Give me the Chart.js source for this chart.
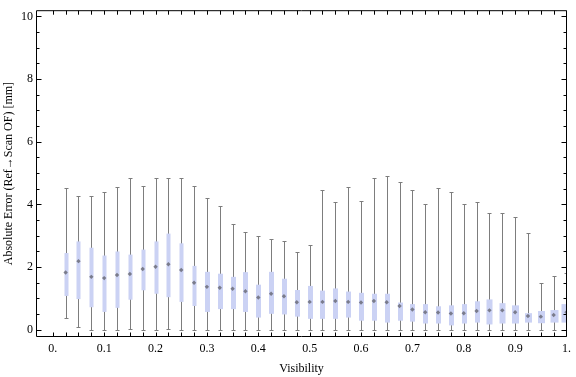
<!DOCTYPE html>
<html>
<head>
<meta charset="utf-8">
<script src="https://cdn.jsdelivr.net/npm/chart.js@4.4.1/dist/chart.umd.min.js"></script>
<style>
  html, body { margin: 0; padding: 0; background: #fff; }
  canvas { display: block; }
</style>
</head>
<body>
<canvas id="chart" width="576" height="377"></canvas>
<script>
// Bin centres (visibility)
const visibility = [
  0.025, 0.05, 0.075, 0.1, 0.125, 0.15, 0.175, 0.2, 0.225, 0.25,
  0.275, 0.3, 0.325, 0.35, 0.375, 0.4, 0.425, 0.45, 0.475, 0.5,
  0.525, 0.55, 0.575, 0.6, 0.625, 0.65, 0.675, 0.7, 0.725, 0.75,
  0.775, 0.8, 0.825, 0.85, 0.875, 0.9, 0.925, 0.95, 0.975, 1.0
]

// Box-whisker statistics, absolute error in mm
const whiskerHigh = [
  4.51, 4.28, 4.28, 4.41, 4.55, 4.83, 4.58, 4.83, 4.83, 4.83,
  4.58, 4.20, 3.95, 3.39, 3.13, 3.00, 2.90, 2.84, 2.48, 2.72,
  4.47, 4.07, 4.55, 4.10, 4.83, 4.91, 4.72, 4.47, 4.00, 4.51,
  4.41, 4.00, 4.07, 3.72, 3.72, 3.60, 3.10, 1.49, 1.71, 1.81
]
const upperQuartile = [
  2.45, 2.82, 2.62, 2.37, 2.50, 2.40, 2.56, 2.82, 3.07, 2.76,
  2.04, 1.85, 1.79, 1.69, 1.84, 1.44, 1.85, 1.63, 1.27, 1.40,
  1.25, 1.32, 1.22, 1.18, 1.15, 1.15, 0.87, 0.82, 0.82, 0.75,
  0.78, 0.82, 0.91, 0.97, 0.85, 0.78, 0.53, 0.60, 0.63, 0.82
]
const medians = [
  1.83, 2.19, 1.69, 1.65, 1.75, 1.78, 1.94, 2.01, 2.09, 1.91,
  1.50, 1.37, 1.34, 1.31, 1.23, 1.03, 1.15, 1.07, 0.88, 0.89,
  0.89, 0.92, 0.89, 0.87, 0.92, 0.88, 0.76, 0.65, 0.56, 0.55,
  0.52, 0.53, 0.60, 0.62, 0.62, 0.56, 0.44, 0.42, 0.47, 0.56
]
const lowerQuartile = [
  1.08, 0.98, 0.72, 0.57, 0.70, 0.96, 1.26, 1.15, 1.04, 0.89,
  0.76, 0.57, 0.66, 0.66, 0.57, 0.39, 0.51, 0.49, 0.42, 0.35,
  0.35, 0.35, 0.39, 0.29, 0.29, 0.23, 0.29, 0.26, 0.20, 0.20,
  0.14, 0.20, 0.23, 0.17, 0.20, 0.20, 0.23, 0.21, 0.23, 0.23
]
const whiskerLow = [
  0.37, 0.09, 0, 0, 0, 0.04, 0, 0, 0.03, 0,
  0, 0, 0, 0, 0, 0, 0, 0, 0, 0,
  0, 0, 0, 0, 0, 0, 0, 0, 0, 0,
  0, 0, 0, 0, 0, 0, 0, 0, 0, 0
]

// Axis ticks and labels
const xTickValues = [
  0, 0.025, 0.05, 0.075, 0.1, 0.125, 0.15, 0.175, 0.2, 0.225, 0.25,
  0.275, 0.3, 0.325, 0.35, 0.375, 0.4, 0.425, 0.45, 0.475, 0.5,
  0.525, 0.55, 0.575, 0.6, 0.625, 0.65, 0.675, 0.7, 0.725, 0.75,
  0.775, 0.8, 0.825, 0.85, 0.875, 0.9, 0.925, 0.95, 0.975, 1.0
]
const xTickLabels = ['0.', '0.1', '0.2', '0.3', '0.4', '0.5', '0.6', '0.7', '0.8', '0.9', '1.']
const yTickValues = [0, 0.5, 1, 1.5, 2, 2.5, 3, 3.5, 4, 4.5, 5, 5.5, 6, 6.5, 7, 7.5, 8, 8.5, 9, 9.5, 10]
const yTickLabels = ['0', '2', '4', '6', '8', '10']

// Box widths in px (boxes get wider toward high visibility)
const boxWidths = [
  4, 4, 4, 4, 4, 4, 4, 4, 4, 4,
  4, 5, 5, 5, 5, 5, 5, 5, 5, 5,
  5, 5, 5, 5, 5, 5, 5, 5, 5, 5,
  5, 5, 5, 6, 6, 7, 7, 7, 8, 10
]

const boxColor = 'rgb(203, 210, 244)'
const whiskerColor = 'rgb(125, 125, 125)'

Chart.defaults.font.family = "'Liberation Serif', 'DejaVu Serif', serif"
Chart.defaults.font.size = 12
Chart.defaults.color = '#000'

// Whiskers, caps and boxes drawn through the chart's scales
const boxWhiskerPlugin = {
  id: 'boxWhisker',
  beforeDatasetsDraw(chart) {
    const { ctx, chartArea, scales: { x, y } } = chart
    ctx.save()
    ctx.beginPath()
    ctx.rect(chartArea.left, chartArea.top, chartArea.right - chartArea.left, chartArea.bottom - chartArea.top)
    ctx.clip()
    visibility.forEach((v, i) => {
      const px = Math.round(x.getPixelForValue(v)) + 0.5
      const top = Math.round(y.getPixelForValue(whiskerHigh[i])) + 0.5
      const bottom = Math.round(y.getPixelForValue(whiskerLow[i])) + 0.5
      ctx.strokeStyle = whiskerColor
      ctx.lineWidth = 1
      ctx.beginPath()
      ctx.moveTo(px, top)
      ctx.lineTo(px, bottom)
      ctx.moveTo(px - 2, top)
      ctx.lineTo(px + 2, top)
      ctx.moveTo(px - 2, bottom)
      ctx.lineTo(px + 2, bottom)
      ctx.stroke()

      const q3 = y.getPixelForValue(upperQuartile[i])
      const q1 = y.getPixelForValue(lowerQuartile[i])
      const w = boxWidths[i]
      ctx.fillStyle = boxColor
      ctx.fillRect(px - w / 2, q3, w, q1 - q3)
    })
    ctx.restore()
  }
}

// Mathematica-like frame with inward ticks on all four sides
const framePlugin = {
  id: 'frame',
  afterDraw(chart) {
    const { ctx, chartArea, scales: { x, y } } = chart
    const l = chartArea.left + 0.5, r = chartArea.right - 0.5
    const t = chartArea.top + 0.5, b = chartArea.bottom - 0.5
    ctx.save()
    ctx.strokeStyle = '#000'
    ctx.lineWidth = 1
    ctx.beginPath()
    ctx.rect(l, t, r - l, b - t)
    xTickValues.forEach(v => {
      const px = Math.round(x.getPixelForValue(v)) + 0.5
      ctx.moveTo(px, b)
      ctx.lineTo(px, b - 4)
      ctx.moveTo(px, t)
      ctx.lineTo(px, t + 4)
    })
    yTickValues.forEach(v => {
      const py = Math.round(y.getPixelForValue(v)) + 0.5
      const len = v % 2 === 0 ? 5 : 3
      ctx.moveTo(l, py)
      ctx.lineTo(l + len, py)
      ctx.moveTo(r, py)
      ctx.lineTo(r - len, py)
    })
    ctx.stroke()
    ctx.restore()
  }
}

const ctx = document.getElementById('chart').getContext('2d')

new Chart(ctx, {
  type: 'scatter',
  data: {
    datasets: [{
      label: 'Median',
      data: visibility.map((v, i) => ({ x: v, y: medians[i] })),
      pointStyle: 'rectRot',
      pointRadius: 2.2,
      backgroundColor: 'rgba(95, 95, 105, 0.75)',
      borderWidth: 0
    }]
  },
  options: {
    responsive: false,
    animation: false,
    layout: { padding: { top: 4, right: 2, left: 0, bottom: 0 } },
    plugins: {
      legend: { display: false },
      tooltip: { enabled: false }
    },
    scales: {
      x: {
        type: 'linear',
        min: -0.0327,
        max: 1.001,
        afterBuildTicks: scale => { scale.ticks = xTickValues.map(value => ({ value })) },
        afterFit: scale => { scale.height = 40 },
        grid: { display: false, drawTicks: false },
        border: { display: false },
        ticks: {
          autoSkip: false,
          maxRotation: 0,
          padding: 5,
          callback: value => {
            const k = Math.round(value * 10)
            return Math.abs(value * 10 - k) < 1e-6 ? xTickLabels[k] : ''
          }
        },
        title: {
          display: true,
          text: 'Visibility',
          padding: { top: 0, bottom: 1 }
        }
      },
      y: {
        type: 'linear',
        min: -0.23,
        max: 10.2,
        afterBuildTicks: scale => { scale.ticks = yTickValues.map(value => ({ value })) },
        afterFit: scale => { scale.width = 36 },
        grid: { display: false, drawTicks: false },
        border: { display: false },
        ticks: {
          autoSkip: false,
          padding: 3,
          callback: value => (value % 2 === 0 ? yTickLabels[value / 2] : '')
        },
        title: {
          display: true,
          text: 'Absolute Error (Ref\u2192Scan OF) [mm]',
          padding: { top: 2, bottom: 0 }
        }
      }
    }
  },
  plugins: [boxWhiskerPlugin, framePlugin]
})
</script>
</body>
</html>
